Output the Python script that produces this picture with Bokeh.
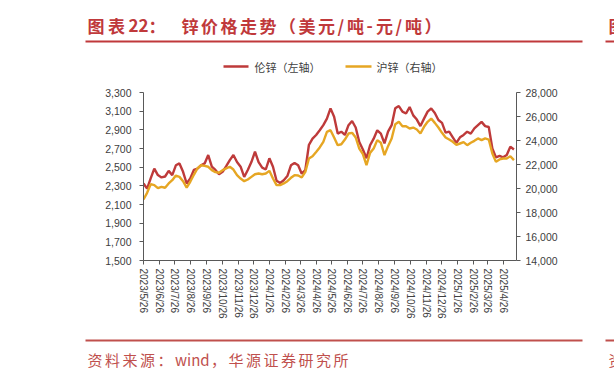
import re
import pandas as pd
from bokeh.plotting import figure
from bokeh.layouts import column
from bokeh.models import Range1d, LinearAxis, FixedTicker, NumeralTickFormatter
from bokeh.core.properties import value
from bokeh.embed import file_html
from bokeh.resources import INLINE

start = "2023-05-26"
dates = pd.date_range(start, periods=104, freq="7D")

lme = [2325, 2270, 2380, 2485, 2415, 2390, 2400, 2460, 2415, 2520,
       2540, 2450, 2325, 2380, 2470, 2485, 2520, 2540, 2630, 2505,
       2470, 2425, 2450, 2510, 2575, 2630, 2555, 2505, 2395, 2470,
       2555, 2665, 2555, 2495, 2475, 2595, 2505, 2355, 2330, 2360,
       2405, 2520, 2545, 2520, 2430, 2470, 2740, 2805, 2845, 2895,
       2950, 3020, 3130, 3040, 2860, 2880, 2845, 2950, 2995, 2925,
       2770, 2690, 2595, 2735, 2805, 2895, 2860, 2755, 2880, 2950,
       3130, 3155, 3095, 3075, 3145, 3055, 3010, 2940, 3020, 3095,
       3130, 3080, 3005, 2975, 2870, 2880, 2820, 2760, 2820, 2845,
       2880, 2860, 2915, 2950, 2985, 2940, 2930, 2700, 2605, 2620,
       2605, 2630, 2720, 2690]

shfe = [19080, 19640, 20360, 20280, 20030, 20140, 20060, 20420, 20690, 21080,
        20970, 20610, 20080, 20560, 21140, 21670, 21940, 21890, 21810, 21530,
        21360, 21310, 21530, 21670, 21810, 21580, 21110, 20830, 20610, 20750,
        20970, 21190, 21250, 21190, 21250, 21470, 20830, 20280, 20280, 20420,
        20610, 20890, 21110, 21080, 20920, 21390, 22500, 22690, 23050, 23420,
        23890, 24720, 24860, 24250, 23610, 23690, 24080, 24580, 24640, 24250,
        23330, 22860, 21940, 22970, 23330, 24030, 23810, 22780, 23530, 24170,
        25360, 25560, 25190, 25190, 25000, 25080, 24920, 24580, 25140, 25560,
        25830, 25470, 25080, 24640, 24250, 24080, 23890, 23640, 23750, 23860,
        23610, 23810, 23970, 24170, 24030, 24170, 24080, 22920, 22220, 22420,
        22500, 22500, 22690, 22360]

tick_labels = ["2023/5/26", "2023/6/26", "2023/7/26", "2023/8/26", "2023/9/26",
               "2023/10/26", "2023/11/26", "2023/12/26", "2024/1/26", "2024/2/26",
               "2024/3/26", "2024/4/26", "2024/5/26", "2024/6/26", "2024/7/26",
               "2024/8/26", "2024/9/26", "2024/10/26", "2024/11/26", "2024/12/26",
               "2025/1/26", "2025/2/26", "2025/3/26", "2025/4/26"]
left_ticks = [1500, 1700, 1900, 2100, 2300, 2500, 2700, 2900, 3100, 3300]
right_ticks = [14000, 16000, 18000, 20000, 22000, 24000, 26000, 28000]

title_left = "图表22："
title_right = "锌价格走势（美元/吨-元/吨）"
legend_names = ["伦锌（左轴）", "沪锌（右轴）"]
source = "资料来源：wind，华源证券研究所"

t0 = pd.Timestamp(start)
xs = [int((d - t0).days) for d in dates]
tick_pos = [int((pd.Timestamp(t) - t0).days) for t in tick_labels]

RED = "#BE3A3A"
YEL = "#E6A623"
TXT = "#404040"
AX = "#595959"
TITLE_RED = "#C0393B"
SRC_RED = "#C0504D"
CJK = value("Noto Sans CJK SC")


def blank(h):
    f = figure(width=614, height=h, output_backend="svg", toolbar_location=None,
               x_range=Range1d(0, 614), y_range=Range1d(h, 0),
               x_axis_type=None, y_axis_type=None, frame_align=False,
               min_border=0, min_border_left=0, min_border_right=0,
               min_border_top=0, min_border_bottom=0)
    f.grid.visible = False
    f.outline_line_color = None
    f.background_fill_color = "white"
    f.border_fill_color = "white"
    return f


def spaced(fig, text, x0, y, full, half, **kw):
    """Place a text with document-style letter spacing (CJK chars one by one,
    runs of ASCII letters kept as one word)."""
    px, toks = [], []
    x = x0
    for tok in re.findall(r"[A-Za-z]+|.", text):
        px.append(x)
        toks.append(tok)
        x += half * len(tok) if ord(tok[0]) < 128 else full
    fig.text(x=px, y=[y] * len(toks), text=toks, text_font=CJK,
             text_baseline="middle", text_align="left", **kw)


# ---------- top: title + legend ----------
top = blank(82)
spaced(top, title_left, 87, 25, 20.5, 10, text_font_size="17px",
       text_font_style="bold", text_color=TITLE_RED)
spaced(top, title_right, 181, 25, 19.5, 9.5, text_font_size="17px",
       text_font_style="bold", text_color=TITLE_RED)
top.text(x=[608], y=[25], text=["图"], text_font=CJK, text_font_size="17px",
         text_font_style="bold", text_color=TITLE_RED, text_baseline="middle")
top.segment(x0=[85, 605], y0=[41, 41], x1=[582, 614], y1=[41, 41],
            line_color=TITLE_RED, line_width=2)
top.segment(x0=[223, 345], y0=[66, 66], x1=[248, 371], y1=[66, 66],
            line_color=[RED, YEL], line_width=2.5)
top.text(x=[254, 376], y=[66, 66], text=legend_names, text_font=CJK,
         text_font_size="11px", text_color=TXT, text_baseline="middle")

# ---------- main chart ----------
p = figure(width=614, height=248, output_backend="svg", toolbar_location=None,
           x_range=Range1d(0, 726), y_range=Range1d(1500, 3300), frame_align=False,
           min_border_left=143, min_border_right=98, min_border_top=10,
           min_border_bottom=70)
p.xgrid.visible = False
p.ygrid.visible = False
p.outline_line_color = None
p.background_fill_color = "white"
p.border_fill_color = "white"

p.extra_y_ranges = {"shfe": Range1d(14000, 28000)}
right = LinearAxis(y_range_name="shfe")
p.add_layout(right, "right")

for ax in [p.yaxis[0], right]:
    ax.axis_line_color = AX
    ax.major_tick_line_color = AX
    ax.major_tick_out = 4
    ax.major_tick_in = 0
    ax.minor_tick_line_color = None
    ax.major_label_text_color = TXT
    ax.major_label_text_font = "Liberation Sans"
    ax.major_label_text_font_size = "10.5px"
    ax.formatter = NumeralTickFormatter(format="0,0")
p.yaxis[0].ticker = FixedTicker(ticks=left_ticks)
p.yaxis[0].major_label_standoff = 8
right.ticker = FixedTicker(ticks=right_ticks)
right.major_label_standoff = 5

xa = p.xaxis[0]
xa.ticker = FixedTicker(ticks=tick_pos)
xa.major_label_overrides = {pos: lab for pos, lab in zip(tick_pos, tick_labels)}
xa.major_label_orientation = "vertical"
xa.axis_line_color = AX
xa.major_tick_line_color = AX
xa.major_tick_out = 4
xa.major_tick_in = 0
xa.minor_tick_line_color = None
xa.major_label_text_color = TXT
xa.major_label_text_font = "Liberation Sans"
xa.major_label_text_font_size = "10px"
xa.major_label_standoff = 4

p.line(xs, lme, line_color=RED, line_width=2.4)
p.line(xs, shfe, y_range_name="shfe", line_color=YEL, line_width=2.4)

# ---------- bottom: source ----------
bot = blank(48)
bot.segment(x0=[85, 605], y0=[10, 10], x1=[582, 614], y1=[10, 10],
            line_color=SRC_RED, line_width=2)
spaced(bot, source, 87, 29, 17.5, 9, text_font_size="15px", text_color=SRC_RED)
bot.text(x=[608], y=[29], text=["资"], text_font=CJK, text_font_size="15px",
         text_color=SRC_RED, text_baseline="middle")

layout = column(top, p, bot, spacing=0)
open("out.html", "w").write(file_html(layout, INLINE))
